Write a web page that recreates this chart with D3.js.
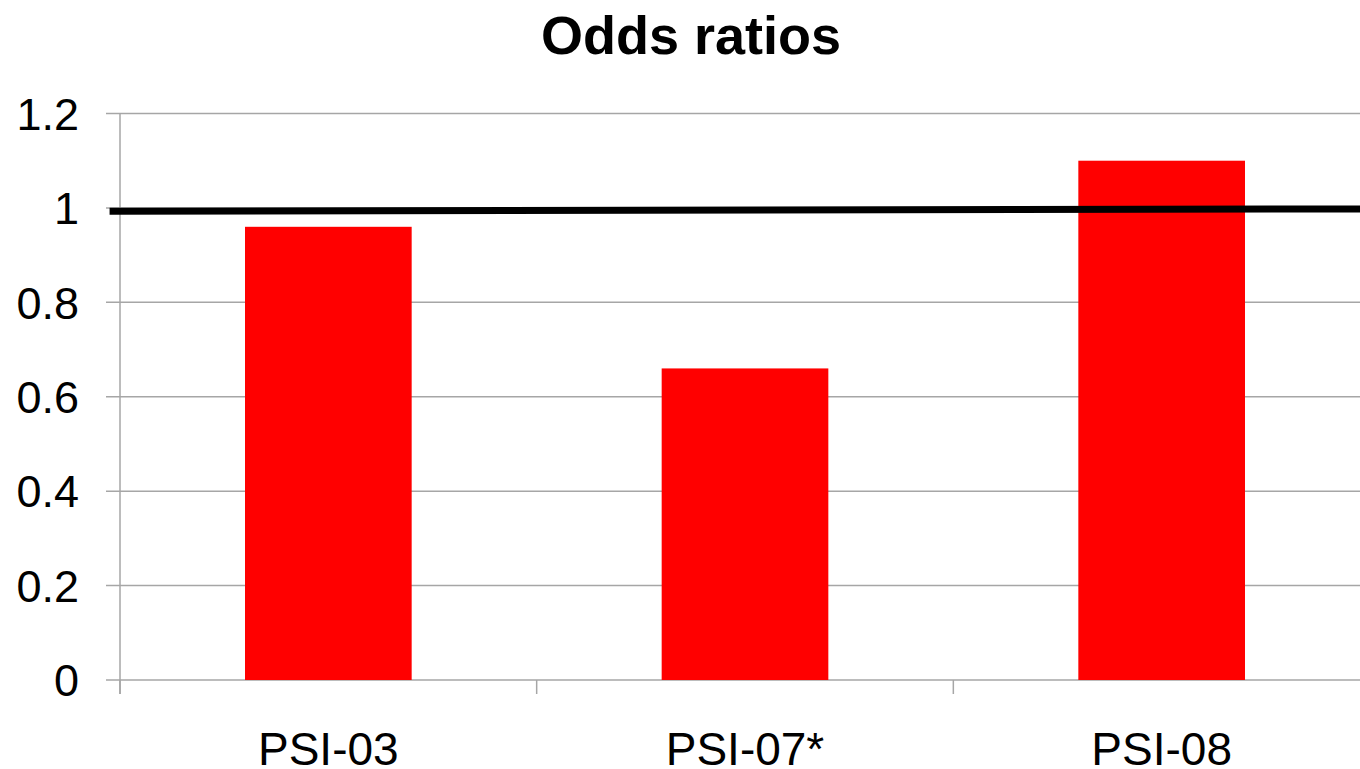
<!DOCTYPE html>
<html>
<head>
<meta charset="utf-8">
<script src="https://cdn.jsdelivr.net/npm/d3@7/dist/d3.min.js"></script>
<style>
  html, body { margin: 0; padding: 0; background: #fff; }
  svg { display: block; font-family: "Liberation Sans", Arial, sans-serif; }
</style>
</head>
<body>
<svg id="chart" width="1360" height="769"></svg>
<script>
// Indicator categories and their odds ratios
const categories = ["PSI-03", "PSI-07*", "PSI-08"];
const oddsRatios = [0.96, 0.66, 1.10];
// Value axis ticks
const yTicks = [0, 0.2, 0.4, 0.6, 0.8, 1, 1.2];
const yTickLabels = ["0", "0.2", "0.4", "0.6", "0.8", "1", "1.2"];
// Reference line (OR = 1), endpoints in category units
const refLineX = [-0.025, 3];
const refLineY = [0.993, 0.998];

const svg = d3.select("#chart");
const plotLeft = 120, plotRight = 1370, plotTop = 113.5, plotBottom = 680;

const x = d3.scaleBand().domain(categories).range([plotLeft, plotRight]).paddingInner(0.6).paddingOuter(0.3);
const xCat = d3.scaleLinear().domain([0, 3]).range([plotLeft, plotRight]);
const y = d3.scaleLinear().domain([0, 1.2]).range([plotBottom, plotTop]);

const grid = "#a6a6a6";

// Horizontal gridlines with short outer ticks
svg.append("g").selectAll("line").data(yTicks).join("line")
  .attr("x1", plotLeft - 14).attr("x2", plotRight)
  .attr("y1", d => y(d)).attr("y2", d => y(d))
  .attr("stroke", grid).attr("stroke-width", 1.5);

// Value axis line
svg.append("line")
  .attr("x1", plotLeft).attr("x2", plotLeft)
  .attr("y1", plotTop).attr("y2", plotBottom + 14)
  .attr("stroke", grid).attr("stroke-width", 1.5);

// Category boundary ticks
svg.append("g").selectAll("line").data(d3.range(0, 4)).join("line")
  .attr("x1", d => xCat(d)).attr("x2", d => xCat(d))
  .attr("y1", plotBottom).attr("y2", plotBottom + 14)
  .attr("stroke", grid).attr("stroke-width", 1.5);

// Value labels
svg.append("g").selectAll("text").data(yTicks).join("text")
  .attr("x", 79).attr("y", d => y(d))
  .attr("dy", "0.36em")
  .attr("text-anchor", "end")
  .attr("font-size", 45)
  .attr("fill", "#000")
  .text((d, i) => yTickLabels[i]);

// Bars
svg.append("g").selectAll("rect").data(oddsRatios).join("rect")
  .attr("x", (d, i) => x(categories[i]))
  .attr("width", x.bandwidth())
  .attr("y", d => y(d))
  .attr("height", d => y(0) - y(d))
  .attr("fill", "#ff0000");

// Reference line at odds ratio 1
const line = d3.line().x(d => xCat(d[0])).y(d => y(d[1]));
svg.append("path")
  .datum(refLineX.map((v, i) => [v, refLineY[i]]))
  .attr("d", line)
  .attr("stroke", "#000").attr("stroke-width", 7).attr("fill", "none");

// Category labels
svg.append("g").selectAll("text").data(categories).join("text")
  .attr("x", d => x(d) + x.bandwidth() / 2)
  .attr("y", 765)
  .attr("text-anchor", "middle")
  .attr("font-size", 46)
  .attr("fill", "#000")
  .text(d => d);

// Title
svg.append("text")
  .attr("x", 691).attr("y", 54)
  .attr("text-anchor", "middle")
  .attr("font-size", 54)
  .attr("font-weight", "bold")
  .attr("fill", "#000")
  .text("Odds ratios");
</script>
</body>
</html>
